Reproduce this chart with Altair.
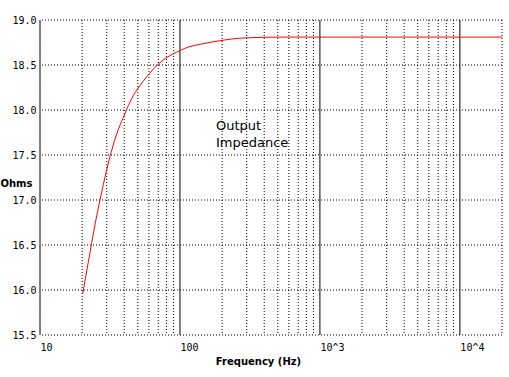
import altair as alt
import pandas as pd

# curve data
freq = [20.2, 21.5, 22.8, 24.0, 25.7, 27.6, 29.6, 31.6, 34.9, 39.4, 44, 49, 54.7, 61, 70, 80, 100, 115, 139, 193, 282, 550, 1000, 5000, 20000]
ohms = [15.96, 16.20, 16.42, 16.62, 16.86, 17.09, 17.30, 17.48, 17.71, 17.92, 18.09, 18.22, 18.32, 18.41, 18.51, 18.58, 18.66, 18.70, 18.73, 18.77, 18.80, 18.81, 18.81, 18.81, 18.81]

minor_x = [20, 30, 40, 50, 60, 70, 80, 90, 200, 300, 400, 500, 600, 700, 800, 900,
           2000, 3000, 4000, 5000, 6000, 7000, 8000, 9000, 20000]
major_x = [10, 100, 1000, 10000]
y_grid = [15.5, 16.0, 16.5, 17.0, 17.5, 18.0, 18.5, 19.0]
x_ticks = [10, 100, 1000, 10000]

note_lines = ["Output", "Impedance"]
note_x = [181, 181]
note_y = [17.82, 17.63]

df = pd.DataFrame({"f": freq, "z": ohms})
xs = alt.Scale(type="log", domain=[10, 20000], nice=False)
ys = alt.Scale(domain=[15.5, 19.0], nice=False, zero=False)

xaxis = alt.Axis(values=x_ticks, labelExpr="datum.value == 10 ? '10' : datum.value == 100 ? '100' : datum.value == 1000 ? '10^3' : '10^4'",
                 labelAlign="left", labelFont="DejaVu Sans Mono", labelFontSize=10, labelColor="black",
                 ticks=False, domain=False, grid=False, labelPadding=7,
                 title="Frequency (Hz)", titleFont="DejaVu Sans", titleFontSize=10, titleFontWeight="bold",
                 titleX=218, titleY=26, titleBaseline="middle", titleAlign="center", labelFlush=False)
yaxis = alt.Axis(values=y_grid, format=".1f", labelFont="DejaVu Sans Mono", labelFontSize=10, labelColor="black",
                 ticks=False, domain=False, grid=False, labelPadding=4,
                 title="Ohms", titleAngle=0, titleX=-40, titleY=163, titleAlign="left", titleBaseline="middle",
                 titleFont="DejaVu Sans", titleFontSize=10, titleFontWeight="bold")

hgrid = alt.Chart(pd.DataFrame({"y": y_grid})).mark_rule(color="black", strokeDash=[1, 2], strokeWidth=1).encode(
    y=alt.Y("y:Q", scale=ys, axis=yaxis))
vminor = alt.Chart(pd.DataFrame({"x": minor_x})).mark_rule(color="black", strokeDash=[1, 2], strokeWidth=1).encode(
    x=alt.X("x:Q", scale=xs, axis=xaxis))
vmajor = alt.Chart(pd.DataFrame({"x": major_x})).mark_rule(color="black", strokeWidth=1).encode(
    x=alt.X("x:Q", scale=xs))
line = alt.Chart(df).mark_line(color="#ff0000", strokeWidth=1, interpolate="monotone").encode(
    x=alt.X("f:Q", scale=xs), y=alt.Y("z:Q", scale=ys))
note = alt.Chart(pd.DataFrame({"t": note_lines, "x": note_x, "y": note_y})).mark_text(
    align="left", baseline="middle", font="DejaVu Sans", fontSize=13, color="black").encode(
    x=alt.X("x:Q", scale=xs), y=alt.Y("y:Q", scale=ys), text="t:N")

chart = alt.layer(hgrid, vminor, vmajor, line, note).properties(
    width=462, height=315, autosize="none",
    padding={"left": 40, "top": 20, "right": 7, "bottom": 42},
    background="white"
).configure_view(stroke=None)

chart.save("out.html", embed_options={"renderer": "svg", "actions": False})
